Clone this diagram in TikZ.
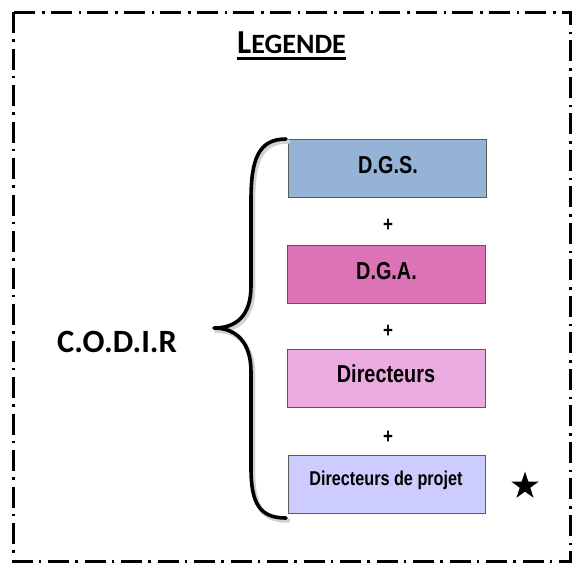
\documentclass[tikz,border=0pt]{standalone}
\usepackage{fontspec}
\setmainfont{Carlito}
\newfontfamily\boxfont[FakeStretch=0.81]{Liberation Sans Bold}
\usetikzlibrary{shapes.geometric}
\definecolor{cdgs}{HTML}{95B3D7}
\definecolor{cdga}{HTML}{DC73B6}
\definecolor{cdir}{HTML}{EBAAE0}
\definecolor{cproj}{HTML}{CCCCFF}
\definecolor{cedge}{HTML}{5A5A5A}
\tikzset{
  legbox/.style={draw=cedge, line width=0.9pt, minimum width=198pt, minimum height=58pt, inner sep=0pt},
  boxtext/.style={anchor=base, inner sep=0pt, font=\boxfont},
  plus/.style={inner sep=0pt, font=\boxfont\fontsize{21}{21}\selectfont},
  frame/.style={line width=3pt, dash pattern=on 21pt off 6pt on 2.5pt off 7pt},
  bracepath/.style={line width=3.6pt, line cap=round, line join=round}
}
\begin{document}
\begin{tikzpicture}[x=1pt, y=-1pt]
\useasboundingbox (0,0) rectangle (572,563);
% frame
\draw[frame] (13,12) rectangle (570,561);
% title
\node[anchor=base west, inner sep=0pt] (legende) at (237,53)
  {\bfseries\fontsize{33.5}{33.5}\selectfont L\fontsize{28}{28}\selectfont EGENDE};
\draw[line width=2.8pt] ([yshift=-5.5pt]legende.base west) -- ([yshift=-5.5pt]legende.base east);
% boxes
\node[legbox, fill=cdgs]  (dgs)  at (387.5,168) {};
\node[legbox, fill=cdga]  (dga)  at (386.5,274) {};
\node[legbox, fill=cdir]  (dir)  at (386.5,378) {};
\node[legbox, fill=cproj, minimum width=197pt] (proj) at (387,484) {};
\node[boxtext, font=\boxfont\fontsize{24.5}{24.5}\selectfont] (tdgs) at (388,173) {D.G.S.};
\node[boxtext, font=\boxfont\fontsize{24.5}{24.5}\selectfont] (tdga) at (386.5,279) {D.G.A.};
\node[boxtext, font=\boxfont\fontsize{24.5}{24.5}\selectfont] (tdir) at (386,382) {Directeurs};
\node[boxtext, font=\boxfont\fontsize{20}{20}\selectfont] (tproj) at (386,485) {Directeurs de projet};
% plus signs
\node[plus] (p1) at (388,225) {+};
\node[plus] (p2) at (388,331) {+};
\node[plus] (p3) at (388,437) {+};
% star
\node[star, star points=5, star point ratio=2.6, fill=black, minimum size=29pt, inner sep=0pt] (star) at (525,486) {};
% brace shadow
\draw[bracepath, gray!35, line width=4.5pt, xshift=2pt, yshift=-2.5pt]
  (286,139) .. controls (258,139) and (251,160) .. (251,200)
  -- (251,286) .. controls (251,316) and (236,328) .. (214,328)
  .. controls (236,328) and (251,342) .. (251,372)
  -- (251,468) .. controls (251,504) and (260,518) .. (286,518);
% brace
\draw[bracepath]
  (286,139) .. controls (258,139) and (251,160) .. (251,200)
  -- (251,286) .. controls (251,316) and (236,328) .. (214,328)
  .. controls (236,328) and (251,342) .. (251,372)
  -- (251,468) .. controls (251,504) and (260,518) .. (286,518);
% CODIR
\node[anchor=base west, inner sep=0pt, font=\bfseries\fontsize{32.5}{32.5}\selectfont] (codir) at (57,352) {C.O.D.I.R};
\end{tikzpicture}
\end{document}
